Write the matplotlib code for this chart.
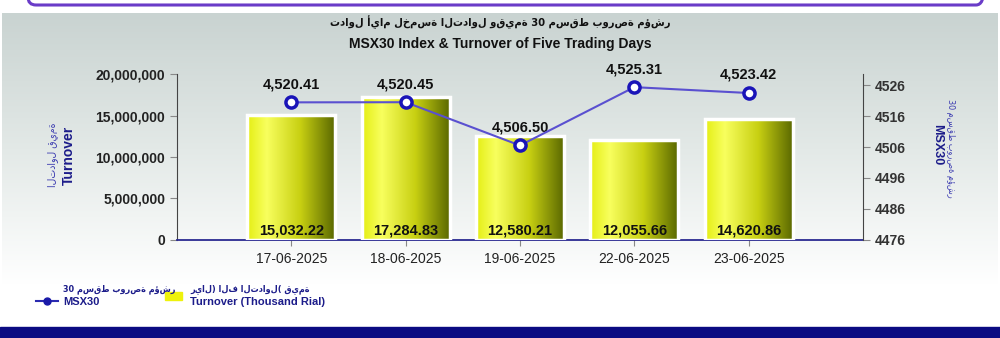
import numpy as np
import matplotlib
matplotlib.use("Agg")
import matplotlib.pyplot as plt
from matplotlib.colors import LinearSegmentedColormap
from matplotlib.patches import FancyBboxPatch, Rectangle

dates = ["17-06-2025", "18-06-2025", "19-06-2025", "22-06-2025", "23-06-2025"]
turnover = [15032.22, 17284.83, 12580.21, 12055.66, 14620.86]   # thousand rial
index_vals = [4520.41, 4520.45, 4506.50, 4525.31, 4523.42]

title_ar = "مؤشر بورصة مسقط 30 وقيمة التداول لخمسة أيام تداول"
title_en = "MSX30 Index & Turnover of Five Trading Days"
ylab_ar = "قيمة التداول"
ylab2_ar = "مؤشر بورصة مسقط 30"
leg_ar_line = "مؤشر بورصة مسقط 30"
leg_ar_bar = "قيمة التداول( الف ريال)"


def rtl(s):
    # words are shaped right, but laid out left to right -> flip word order
    return " ".join(s.split(" ")[::-1])


plt.rcParams['font.family'] = ['Liberation Sans', 'DejaVu Sans']
narrow = ['Liberation Sans Narrow', 'Liberation Sans', 'DejaVu Sans']
ar = dict(family=['DejaVu Sans'], fontstretch="condensed")
fig = plt.figure(figsize=(10, 3.38), dpi=100)

# background panel with grey->white gradient
bg = fig.add_axes([0, 0, 1, 1])
bg.set_xlim(0, 1000)
bg.set_ylim(338, 0)
bg.axis("off")
grad = np.linspace(0, 1, 256)[:, None]
bgcm = LinearSegmentedColormap.from_list("bg", ["#c9d3d1", "#e3e9e7", "#ffffff"])
bg.imshow(grad, cmap=bgcm, extent=[2, 998, 285, 13], aspect="auto", zorder=0)
bg.add_patch(Rectangle((0, 327), 1000, 11, color="#0b0b82", zorder=1))
bg.add_patch(FancyBboxPatch((28, -20), 956, 25, boxstyle="round,pad=0,rounding_size=8",
                            fc="none", ec="#6a3cc8", lw=2.2, zorder=1))

bg.text(500, 22, rtl(title_ar), ha="center", va="center", fontsize=8, fontweight="bold",
        color="#111", **ar)
bg.text(500, 44, title_en, ha="center", va="center", fontsize=10, fontweight="bold",
        color="#111", family=narrow)

# y-axis titles
bg.text(69, 155, "Turnover", rotation=90, ha="center", va="center", fontsize=10,
        fontweight="bold", color="#1c1c8a")
bg.text(53, 155, rtl(ylab_ar), rotation=90, ha="center", va="center", fontsize=7.5,
        color="#3a3ab0", **ar)
bg.text(937, 145, "MSX30", rotation=270, ha="center", va="center", fontsize=9,
        fontweight="bold", color="#1c1c8a")
bg.text(950, 148, rtl(ylab2_ar), rotation=270, ha="center", va="center", fontsize=6.5,
        color="#3a3ab0", **ar)

# legend
bg.plot([36, 58], [301, 301], color="#2a2ab0", lw=1.5)
bg.plot([47], [301], marker="o", ms=5, color="#1a1aa8")
bg.text(63, 289, rtl(leg_ar_line), ha="left", va="center", fontsize=6.5, fontweight="bold",
        color="#1c1c8a", **ar)
bg.text(63, 302, "MSX30", ha="left", va="center", fontsize=8, fontweight="bold", color="#1c1c8a")
bg.add_patch(Rectangle((165, 292), 17, 8, color="#eef20c"))
bg.text(190, 289, rtl(leg_ar_bar), ha="left", va="center", fontsize=6.5, fontweight="bold",
        color="#1c1c8a", **ar)
bg.text(190, 302, "Turnover (Thousand Rial)", ha="left", va="center", fontsize=8,
        fontweight="bold", color="#1c1c8a")

# main axes
ax = fig.add_axes([0.177, 0.29, 0.686, 0.491])
ax.patch.set_alpha(0)
x = np.arange(len(dates))
vals = np.array(turnover) * 1000
width = 0.77
ax.set_xlim(-1, 5)
ax.set_ylim(0, 20_000_000)

barcm = LinearSegmentedColormap.from_list("bar", [(0, "#e4ee14"), (0.22, "#f8ff5e"),
                                                  (0.6, "#c8d012"), (1, "#586600")])
row = np.linspace(0, 1, 200)[None, :]
for xi, v in zip(x, vals):
    rect = Rectangle((xi - width / 2, 0), width, v, fc="none", ec="white", lw=2.5, zorder=3)
    ax.add_patch(rect)
    im = ax.imshow(row, cmap=barcm, extent=[xi - width / 2, xi + width / 2, 0, v],
                   aspect="auto", zorder=2)
    im.set_clip_path(rect)
    ax.text(xi, 350_000, f"{v/1000:,.2f}", ha="center", va="bottom", fontsize=10.5,
            fontweight="bold", color="#111", zorder=5)

ax.set_xticks(x, dates)
ax.set_yticks(np.arange(0, 20_000_001, 5_000_000))
ax.yaxis.set_major_formatter(matplotlib.ticker.FuncFormatter(lambda v, p: f"{v:,.0f}"))
for lab in ax.get_yticklabels():
    lab.set_fontweight("bold")
ax.tick_params(axis="y", labelsize=10, colors="#888", labelcolor="#222", length=5, width=0.8)
ax.tick_params(axis="x", labelsize=10, colors="#888", labelcolor="#222", length=4, width=0.8, pad=5)
ax.spines["top"].set_visible(False)
ax.spines["right"].set_visible(False)
ax.spines["left"].set_color("#444")
ax.spines["bottom"].set_color("#2a2a90")
ax.spines["bottom"].set_linewidth(1.3)

ax2 = ax.twinx()
ax2.set_ylim(4476, 4476 + 166 / 3.1)
ax2.set_yticks(np.arange(4476, 4527, 10))
ax2.plot(x, index_vals, color="#5a50d0", lw=1.5, marker="o", ms=8, mfc="white",
         mec="#1a14b8", mew=2.5, zorder=6)
for xi, v in zip(x, index_vals):
    ax2.annotate(f"{v:,.2f}", (xi, v), xytext=(0, 8), textcoords="offset points",
                 ha="center", va="bottom", fontsize=10.5, fontweight="bold", color="#111")
for lab in ax2.get_yticklabels():
    lab.set_fontweight("bold")
ax2.tick_params(axis="y", labelsize=10, colors="#888", labelcolor="#333", length=5, width=0.8)
ax2.spines["top"].set_visible(False)
ax2.spines["left"].set_visible(False)
ax2.spines["bottom"].set_visible(False)
ax2.spines["right"].set_color("#444")

fig.savefig("out.png", dpi=100)
